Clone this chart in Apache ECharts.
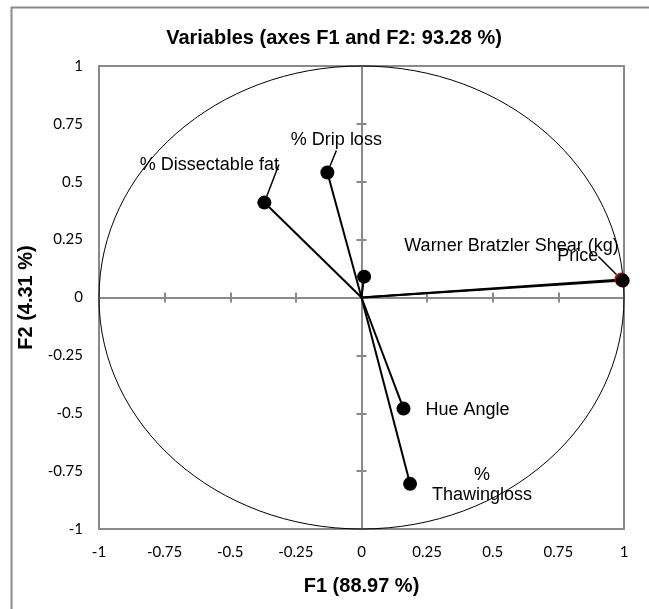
<!DOCTYPE html>
<html>
<head>
<meta charset="utf-8">
<title>Variables (axes F1 and F2: 93.28 %)</title>
<script src="https://cdn.jsdelivr.net/npm/echarts@6.0.0/dist/echarts.min.js"></script>
<style>
  html, body { margin: 0; padding: 0; background: #fff; }
  #chart { width: 649px; height: 609px; }
</style>
</head>
<body>
<div id="chart"></div>
<script>
// 数据
const varNames = ['% Dissectable fat', '% Drip loss', '', 'Price', 'Warner Bratzler Shear (kg)', 'Hue Angle', '%\nThawingloss'];
const f1 = [-0.37, -0.13, 0.01, 0.99, 0.995, 0.16, 0.185];
const f2 = [0.41, 0.54, 0.09, 0.078, 0.073, -0.48, -0.805];
const pointColors = ['#000', '#000', '#000', '#e00000', '#000', '#000', '#000'];
const circleRadius = 1;

// 标签位置 (相对于点中心的像素偏移, 对齐方式, 是否显示引线)
const labelPlace = [
    [-55, -38, 'center', true],
    [9, -32, 'center', true],
    [0, 0, 'center', false],
    [-23, -23, 'right', true],
    [-4, -35, 'right', false],
    [22, 1, 'left', false],
    [72, 1, 'center', false]
];

const GRAY = '#8a8a8a';
const SANS = "'Liberation Sans', Arial, sans-serif";

const myChart = echarts.init(document.getElementById('chart'));

const points = f1.map((x, i) => ({
    name: varNames[i],
    value: [x, f2[i]],
    itemStyle: { color: pointColors[i], opacity: 1 },
    label: { show: varNames[i] !== '' },
    labelLine: { show: labelPlace[i][3] }
}));

function zeroAxis(pos) {
    return {
        type: 'value',
        min: -1,
        max: 1,
        interval: 0.25,
        position: pos,
        axisLine: { show: true, onZero: true, onZeroAxisIndex: 0, lineStyle: { color: GRAY, width: 2 } },
        axisTick: { show: true, inside: false, length: 5, lineStyle: { color: GRAY, width: 2 } },
        axisLabel: { show: false },
        splitLine: { show: false }
    };
}

const tickLabelStyle = { fontFamily: 'Lato', fontSize: 15, color: '#000', margin: 16 };
const nameStyle = { fontFamily: SANS, fontSize: 20, fontWeight: 'bold', color: '#000' };

const option = {
    backgroundColor: '#fff',
    animation: false,
    title: {
        text: 'Variables (axes F1 and F2: 93.28 %)',
        left: 334,
        top: 28,
        textAlign: 'center',
        padding: 0,
        textStyle: { fontFamily: SANS, fontSize: 20, fontWeight: 'bold', color: '#000' }
    },
    graphic: [{
        type: 'rect',
        left: 9,
        top: 5,
        shape: { width: 700, height: 700 },
        style: { fill: 'none', stroke: GRAY, lineWidth: 2 },
        silent: true
    }],
    grid: {
        left: 99,
        right: 25,
        top: 66,
        bottom: 80,
        show: true,
        borderColor: GRAY,
        borderWidth: 2,
        backgroundColor: 'transparent'
    },
    xAxis: [
        {
            type: 'value', min: -1, max: 1, interval: 0.25, position: 'bottom',
            name: 'F1 (88.97 %)', nameLocation: 'middle', nameGap: 47, nameTextStyle: nameStyle,
            axisLine: { show: false, onZero: false },
            axisTick: { show: false },
            axisLabel: tickLabelStyle,
            splitLine: { show: false }
        },
        zeroAxis('top'),
        zeroAxis('bottom')
    ],
    yAxis: [
        {
            type: 'value', min: -1, max: 1, interval: 0.25, position: 'left',
            name: 'F2 (4.31 %)', nameLocation: 'middle', nameGap: 57, nameTextStyle: nameStyle,
            axisLine: { show: false, onZero: false },
            axisTick: { show: false },
            axisLabel: tickLabelStyle,
            splitLine: { show: false }
        },
        zeroAxis('left'),
        zeroAxis('right')
    ],
    series: [
        {
            // 相关圆
            type: 'custom',
            xAxisIndex: 0,
            yAxisIndex: 0,
            silent: true,
            z: 1,
            data: [[0, 0]],
            renderItem: function (params, api) {
                const c = api.coord([0, 0]);
                const s = api.size([circleRadius, circleRadius]);
                return {
                    type: 'ellipse',
                    shape: { cx: c[0], cy: c[1], rx: s[0], ry: s[1] },
                    style: { fill: 'none', stroke: '#000', lineWidth: 1 }
                };
            }
        },
        {
            // 向量
            type: 'custom',
            xAxisIndex: 0,
            yAxisIndex: 0,
            silent: true,
            z: 3,
            data: f1.map((x, i) => [x, f2[i]]),
            renderItem: function (params, api) {
                const o = api.coord([0, 0]);
                const p = api.coord([api.value(0), api.value(1)]);
                return {
                    type: 'line',
                    shape: { x1: o[0], y1: o[1], x2: p[0], y2: p[1] },
                    style: { stroke: '#000', lineWidth: 2 }
                };
            }
        },
        {
            type: 'scatter',
            xAxisIndex: 0,
            yAxisIndex: 0,
            z: 4,
            symbol: 'circle',
            symbolSize: 14,
            itemStyle: { opacity: 1 },
            data: points,
            label: {
                position: 'inside',
                formatter: '{b}',
                fontFamily: SANS,
                fontSize: 18,
                color: '#000',
                opacity: 1,
                lineHeight: 20
            },
            labelLine: {
                lineStyle: { color: '#000', width: 1.5, opacity: 1 }
            },
            labelLayout: function (params) {
                const pl = labelPlace[params.dataIndex];
                const cx = params.rect.x + params.rect.width / 2;
                const cy = params.rect.y + params.rect.height / 2;
                return {
                    x: cx + pl[0],
                    y: cy + pl[1],
                    align: pl[2],
                    verticalAlign: 'middle'
                };
            }
        }
    ]
};

myChart.setOption(option);
</script>
</body>
</html>
